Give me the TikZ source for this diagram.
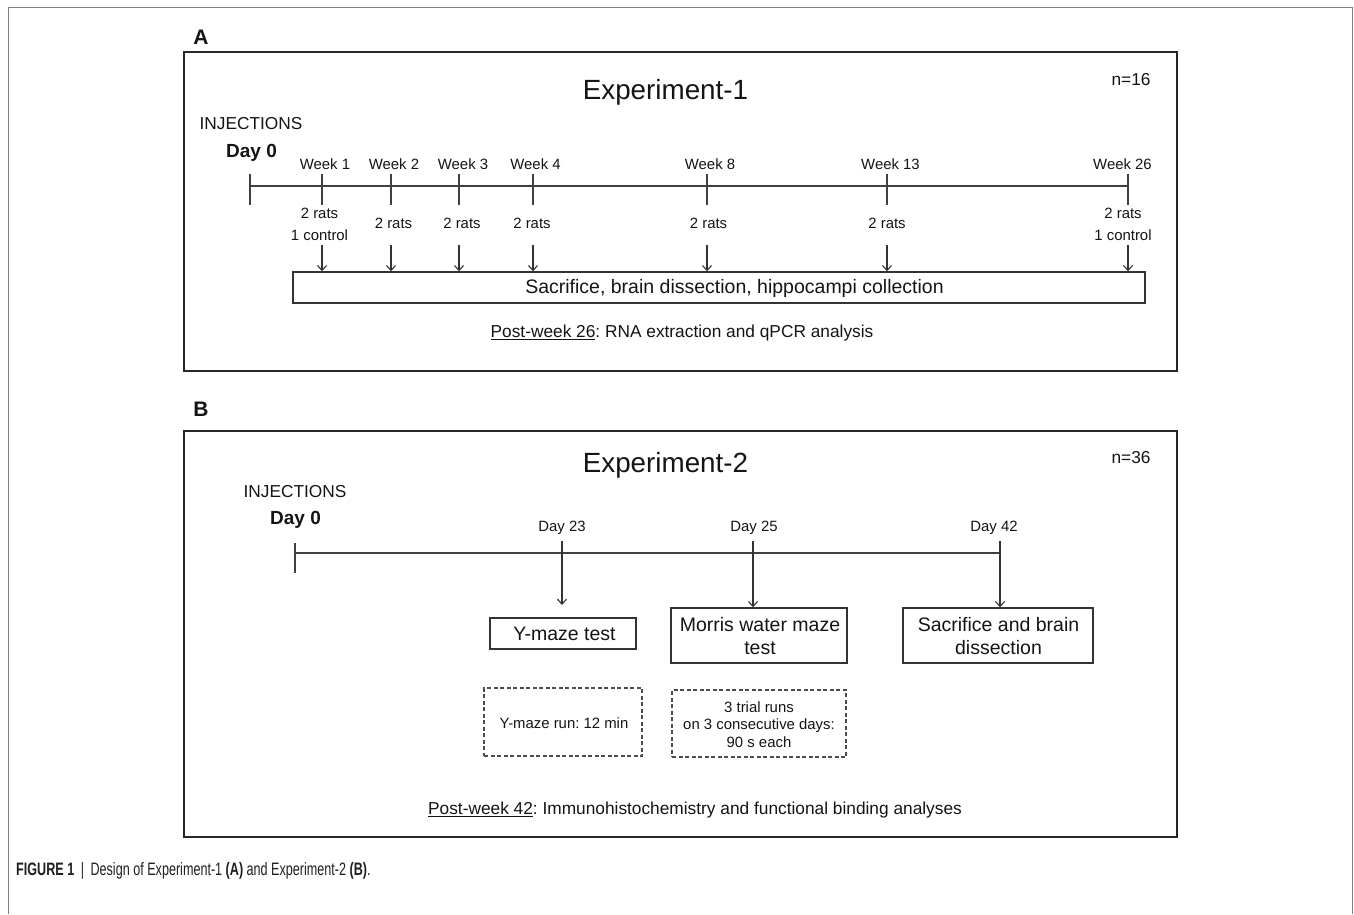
\documentclass[tikz,border=0pt]{standalone}
\usepackage{fontspec}
\setmainfont{Liberation Sans}
\newfontfamily\capfont[FakeStretch=0.70]{Liberation Sans}
\usetikzlibrary{arrows.meta}
\frenchspacing
\begin{document}
\begin{tikzpicture}[x=1pt,y=-1pt,
  panel/.style={draw=black!85, line width=2.2pt, inner sep=0, minimum width=993},
  box/.style={draw=black!80, line width=1.4pt, inner sep=0},
  dbox/.style={draw=black!70, line width=1.2pt, dash pattern=on 4pt off 2.5pt, inner sep=0},
  tl/.style={draw=black!75, line width=1.3pt},
  arr/.style={draw=black!80, line width=1.1pt, -{Straight Barb[length=5pt,width=9pt,line width=1.1pt]}},
  lab/.style={inner sep=0, text=black!92},
  big/.style={lab, font=\fontsize{27.8}{33}\selectfont},
  mid/.style={lab, font=\fontsize{19.5}{23}\selectfont, align=center},
  sml/.style={lab, font=\fontsize{14.9}{17.5}\selectfont, align=center},
  med/.style={lab, font=\fontsize{17.3}{20}\selectfont},
  dayz/.style={lab, font=\fontsize{19}{22}\selectfont\bfseries},
  plab/.style={lab, font=\fontsize{21}{24}\selectfont\bfseries}
]
\useasboundingbox (0,0) rectangle (1354,914);
% outer frame (open at bottom)
\draw[black!50, line width=1pt] (8,914) -- (8,7) -- (1352,7) -- (1352,914);

% ================= Panel A =================
\node[plab] (labA) at (201,37.5) {A};
\node[panel, minimum height=319] (pA) at (680.5,211.5) {};
\node[big] (exp1) at (665.5,92) {Experiment-1};
\node[med] (n16) at (1131,80) {n=16};
\node[med] (injA) at (251,124) {INJECTIONS};
\node[dayz] (d0A) at (251.5,153) {Day 0};

% timeline A
\coordinate (tA0) at (250,186);
\coordinate (tA26) at (1128,186);
\draw[tl] (tA0) -- (tA26);
\foreach \n/\x in {0/250,1/322,2/391,3/459,4/533,8/707,13/887,26/1128}{
  \coordinate (wk\n) at (\x,186);
  \draw[tl] (\x,174) -- (\x,205);
}
\node[sml] (lw1) at (325,164) {Week 1};
\node[sml] (lw2) at (394,164) {Week 2};
\node[sml] (lw3) at (463,164) {Week 3};
\node[sml] (lw4) at (535.5,164) {Week 4};
\node[sml] (lw8) at (710,164) {Week 8};
\node[sml] (lw13) at (890.5,164) {Week 13};
\node[sml] (lw26) at (1122.5,164) {Week 26};

\node[sml] (r1) at (319.5,224.5) {2 rats\\[4.5pt]1 control};
\node[sml] (r2) at (393.5,223) {2 rats};
\node[sml] (r3) at (462,223) {2 rats};
\node[sml] (r4) at (532,223) {2 rats};
\node[sml] (r8) at (708.5,223) {2 rats};
\node[sml] (r13) at (887,223) {2 rats};
\node[sml] (r26) at (1123,224.5) {2 rats\\[4.5pt]1 control};

\node[box, minimum width=852, minimum height=31] (sacA) at (719,287.5) {};
\node[mid] (sacAt) at (734.5,288) {Sacrifice, brain dissection, hippocampi collection};
\foreach \n/\x in {1/322,2/391,3/459,4/533,8/707,13/887,26/1128}{
  \coordinate (a\n) at (\x,245);
  \draw[arr] (a\n) -- (a\n |- sacA.north);
}
\node[med] (postA) at (682,333) {\underline{Post-week 26}: RNA extraction and qPCR analysis};

% ================= Panel B =================
\node[plab] (labB) at (201,409.5) {B};
\node[panel, minimum height=406] (pB) at (680.5,634) {};
\node[big] (exp2) at (665.5,465) {Experiment-2};
\node[med] (n36) at (1131,458) {n=36};
\node[med] (injB) at (295,492) {INJECTIONS};
\node[dayz] (d0B) at (295.5,520) {Day 0};

\coordinate (tB0) at (295,553);
\coordinate (tB42) at (1000,553);
\draw[tl] (tB0) -- (tB42);
\draw[tl] (295,543) -- (295,573);
\node[sml] (l23) at (562,528) {Day 23};
\node[sml] (l25) at (754,528) {Day 25};
\node[sml] (l42) at (994,528) {Day 42};

\node[box, minimum width=146, minimum height=31] (ym) at (563,633.5) {};
\node[mid] (ymt) at (564.5,634) {Y-maze test};
\node[box, minimum width=176, minimum height=55] (mw) at (759,635.5) {};
\node[mid] (mwt) at (760,636) {Morris water maze\\test};
\node[box, minimum width=190, minimum height=55] (sb) at (998,635.5) {};
\node[mid] (sbt) at (998.5,636) {Sacrifice and brain\\dissection};

\coordinate (b23) at (562,541);
\coordinate (e23) at (562,605);
\coordinate (b25) at (753,541);
\coordinate (b42) at (1000,541);
\draw[arr] (b23) -- (e23);
\draw[arr] (b25) -- (b25 |- mw.north);
\draw[arr] (b42) -- (b42 |- sb.north);

\node[dbox, minimum width=158, minimum height=68] (dy) at (563,722) {};
\node[sml] (dyt) at (564,723) {Y-maze run: 12 min};
\node[dbox, minimum width=174, minimum height=67] (dm) at (759,723.5) {};
\node[sml] (dmt) at (759,724.5) {3 trial runs\\on 3 consecutive days:\\90 s each};

\node[med] (postB) at (695,810) {\underline{Post-week 42}: Immunohistochemistry and functional binding analyses};

% caption
\node[lab, anchor=west, text=black!88, font=\fontsize{18}{21}\selectfont\capfont] (cap) at (16,871)
  {\textbf{FIGURE 1}\, |\, Design of Experiment-1 \textbf{(A)} and Experiment-2 \textbf{(B)}.};
\end{tikzpicture}
\end{document}
